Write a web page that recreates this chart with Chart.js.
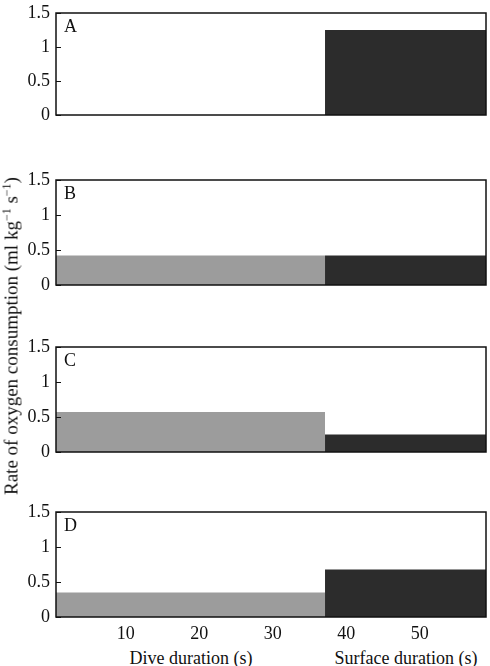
<!DOCTYPE html>
<html>
<head>
<meta charset="utf-8">
<script src="https://cdn.jsdelivr.net/npm/chart.js@4/dist/chart.umd.min.js"></script>
<style>
  html, body { margin: 0; padding: 0; background: #fff; }
  #wrap { position: relative; width: 490px; height: 666px; overflow: hidden; font-family: "Liberation Serif", "DejaVu Serif", serif; }
  canvas { position: absolute; left: 0; }
  .lbl { position: absolute; font-size: 18px; line-height: 18px; color: #111; white-space: nowrap; }
  #ytitle { position: absolute; left: 11px; top: 336px; transform: translate(-50%, -50%) rotate(-90deg); font-size: 19px; line-height: 19px; white-space: nowrap; color: #111; }
  sup { font-size: 12px; vertical-align: 7px; line-height: 0; }
</style>
</head>
<body>
<div id="wrap">
  <canvas id="c0"></canvas>
  <canvas id="c1"></canvas>
  <canvas id="c2"></canvas>
  <canvas id="c3"></canvas>
  <div id="ytitle">Rate of oxygen consumption (ml kg<sup>−1</sup> s<sup>−1</sup>)</div>
  <div class="lbl" style="left:191px; top:649px; transform:translateX(-50%);">Dive duration (s)</div>
  <div class="lbl" style="left:406px; top:649px; transform:translateX(-50%);">Surface duration (s)</div>
</div>
<script>
// ---- data ----
const panelLetters = ['A', 'B', 'C', 'D'];
const diveRates = [0, 0.42, 0.57, 0.35];
const surfaceRates = [1.25, 0.42, 0.25, 0.68];
const xStart = 0.5;
const diveEnd = 37.1;
const surfaceEnd = 59;
const xTickValues = [10, 20, 30, 40, 50];
const yTickValues = [0, 0.5, 1, 1.5];

// ---- layout (pixels) ----
const plotTops = [12.5, 179.5, 347, 512];
const plotBottoms = [115, 285, 452, 617];
const padTop = 12;
const padBottom = 12;
const plotLeft = 56;
const plotRight = 486;
const diveColor = '#9c9c9c';
const surfaceColor = '#2c2c2c';
const fontFam = '"Liberation Serif", "DejaVu Serif", serif';

const framePlugin = {
  id: 'frame',
  afterDatasetsDraw(chart) {
    const { ctx, chartArea: a } = chart;
    const y = chart.scales.y;
    ctx.save();
    ctx.strokeStyle = '#111';
    ctx.lineWidth = 1.5;
    ctx.strokeRect(a.left, a.top, a.right - a.left, a.bottom - a.top);
    ctx.lineWidth = 1;
    yTickValues.forEach(v => {
      const py = Math.round(y.getPixelForValue(v)) + 0.5;
      ctx.beginPath();
      ctx.moveTo(a.left, py);
      ctx.lineTo(a.left + 5, py);
      ctx.stroke();
    });
    ctx.fillStyle = '#111';
    ctx.font = '18px ' + fontFam;
    ctx.textBaseline = 'middle';
    ctx.fillText(chart.options.plugins.frame.letter, a.left + 8, a.top + 14);
    ctx.restore();
  }
};

for (let i = 0; i < 4; i++) {
  const isLast = i === 3;
  const xAxisH = isLast ? 30 : 0;
  const bottomPad = isLast ? 0 : padBottom;
  const plotH = plotBottoms[i] - plotTops[i];
  const canvas = document.getElementById('c' + i);
  const h = padTop + plotH + xAxisH + bottomPad;
  canvas.style.top = (plotTops[i] - padTop) + 'px';
  canvas.style.width = '490px';
  canvas.style.height = h + 'px';
  canvas.width = 490;
  canvas.height = h;

  new Chart(canvas, {
    type: 'line',
    data: {
      datasets: [
        {
          data: [{ x: xStart, y: diveRates[i] }, { x: diveEnd, y: diveRates[i] }],
          backgroundColor: diveColor, borderWidth: 0, pointRadius: 0, fill: 'origin'
        },
        {
          data: [{ x: diveEnd, y: surfaceRates[i] }, { x: surfaceEnd, y: surfaceRates[i] }],
          backgroundColor: surfaceColor, borderWidth: 0, pointRadius: 0, fill: 'origin'
        }
      ]
    },
    options: {
      responsive: false,
      animation: false,
      layout: { padding: { top: padTop, left: 0, right: 490 - plotRight, bottom: bottomPad } },
      plugins: { legend: { display: false }, tooltip: { enabled: false }, frame: { letter: panelLetters[i] } },
      scales: {
        x: {
          type: 'linear', min: xStart, max: surfaceEnd,
          afterBuildTicks: s => { s.ticks = xTickValues.map(v => ({ value: v })); },
          afterFit: s => { s.height = xAxisH; s.paddingLeft = 0; s.paddingRight = 0; },
          grid: { display: false, drawTicks: false },
          border: { display: false },
          ticks: { display: isLast, color: '#111', padding: 6, maxRotation: 0, font: { family: fontFam, size: 18 },
                   callback: v => String(v) }
        },
        y: {
          min: 0, max: 1.5,
          afterBuildTicks: s => { s.ticks = yTickValues.map(v => ({ value: v })); },
          afterFit: s => { s.width = plotLeft; s.paddingTop = 0; s.paddingBottom = 0; },
          grid: { display: false, drawTicks: false },
          border: { display: false },
          ticks: { color: '#111', padding: 6, font: { family: fontFam, size: 18 },
                   callback: v => String(v) }
        }
      }
    },
    plugins: [framePlugin]
  });
}
</script>
</body>
</html>
